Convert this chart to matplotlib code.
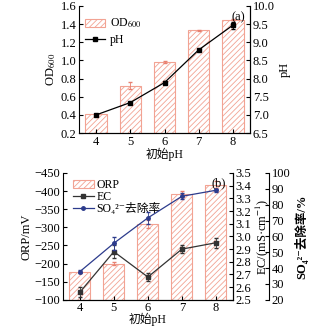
import numpy as np
import matplotlib
matplotlib.use('Agg')
import matplotlib.pyplot as plt

plt.rcParams['font.family'] = ['Liberation Serif', 'DejaVu Serif', 'Noto Sans CJK SC']
plt.rcParams['mathtext.fontset'] = 'stix'
plt.rcParams['font.size'] = 9
plt.rcParams['hatch.linewidth'] = 0.6

ph0 = [4, 5, 6, 7, 8]

# panel (a)
od600 = [0.41, 0.72, 0.98, 1.33, 1.45]
od600_err = [0.005, 0.04, 0.01, 0.01, 0.01]
ph_end = [7.0, 7.34, 7.89, 8.79, 9.47]
ph_end_err = [0.02, 0.02, 0.03, 0.03, 0.1]

# panel (b)
orp = [-177, -200, -309, -393, -418]
orp_err = [2, 5, 10, 8, 10]
ec = [2.56, 2.88, 2.68, 2.90, 2.95]
ec_err = [0.04, 0.05, 0.03, 0.03, 0.04]
so4 = [37.8, 55.7, 71.7, 85.3, 89.1]
so4_err = [1, 4, 4, 2, 1]

bar_edge = '#f2a393'
blue = '#2c3b8c'

fig = plt.figure(figsize=(3.29, 3.27), dpi=100)

# ---------- (a) ----------
ax1 = fig.add_axes([0.240, 0.593, 0.520, 0.389])
b1 = ax1.bar(ph0, od600, width=0.62, color='white', edgecolor=bar_edge,
             hatch='//////', linewidth=0.8, label='OD$_{600}$')
ax1.errorbar(ph0, od600, yerr=od600_err, fmt='none', ecolor='#e88070',
             elinewidth=0.6, capsize=1.5)
ax1.set_ylim(0.2, 1.6)
ax1.set_xlim(3.5, 8.5)
ax1.set_yticks(np.arange(0.2, 1.61, 0.2))
ax1.set_ylabel('OD$_{600}$', labelpad=2)
ax1.set_xlabel('初始pH', labelpad=0, fontsize=8.5)
ax1.set_xticks(ph0)

ax1b = ax1.twinx()
ax1b.errorbar(ph0, ph_end, yerr=ph_end_err, fmt='none', ecolor='black',
              elinewidth=0.6, capsize=1.5)
l1, = ax1b.plot(ph0, ph_end, color='black', marker='s', ms=3, lw=0.9, label='pH')
ax1b.set_ylim(6.5, 10.0)
ax1b.set_yticks(np.arange(6.5, 10.01, 0.5))
ax1b.set_ylabel('pH', labelpad=3)
ax1.text(0.97, 0.96, '(a)', transform=ax1.transAxes, ha='right', va='top')
ax1.legend(handles=[b1, l1], loc='upper left', frameon=False,
           bbox_to_anchor=(0.01, 0.95), handlelength=1.7, borderaxespad=0,
           labelspacing=0.3, handletextpad=0.35, fontsize=8.5)

# ---------- (b) ----------
ax2 = fig.add_axes([0.191, 0.083, 0.517, 0.388])
b2 = ax2.bar(ph0, orp, width=0.62, color='white', edgecolor=bar_edge,
             hatch='//////', linewidth=0.8, label='ORP')
ax2.errorbar(ph0, orp, yerr=orp_err, fmt='none', ecolor='#e88070',
             elinewidth=0.6, capsize=1.5)
ax2.set_ylim(-100, -450)
ax2.set_xlim(3.5, 8.5)
ax2.set_yticks(np.arange(-100, -451, -50))
ax2.set_yticklabels(['\u2212%d' % (-v) for v in np.arange(-100, -451, -50)])
ax2.set_ylabel('ORP/mV', labelpad=1)
ax2.set_xlabel('初始pH', labelpad=-1, fontsize=8.5)
ax2.set_xticks(ph0)

ax2b = ax2.twinx()
ax2b.errorbar(ph0, ec, yerr=ec_err, fmt='none', ecolor='#333333',
              elinewidth=0.6, capsize=1.5)
l2, = ax2b.plot(ph0, ec, color='#333333', marker='s', ms=3, lw=0.9, label='EC')
ax2b.set_ylim(2.5, 3.5)
ax2b.set_yticks(np.arange(2.5, 3.51, 0.1))
ax2b.set_ylabel('EC/(mS·cm$^{-1}$)', labelpad=1)

ax2c = ax2.twinx()
ax2c.spines['right'].set_position(('axes', 1.21))
ax2c.errorbar(ph0, so4, yerr=so4_err, fmt='none', ecolor=blue,
              elinewidth=0.6, capsize=1.5)
l3, = ax2c.plot(ph0, so4, color=blue, marker='o', ms=2.5, lw=0.9,
                label='SO\u2084\u00b2\u207b去除率')
ax2c.set_ylim(20, 100)
ax2c.set_yticks(np.arange(20, 101, 10))
ax2c.set_ylabel('SO\u2084\u00b2\u207b去除率/%', fontweight='bold', labelpad=3)
ax2.text(0.96, 0.97, '(b)', transform=ax2.transAxes, ha='right', va='top')
ax2.legend(handles=[b2, l2, l3], loc='upper left', frameon=False,
           bbox_to_anchor=(0.03, 0.99), handlelength=1.8, borderaxespad=0,
           labelspacing=0.0, handletextpad=0.2, fontsize=8.5)

for a in [ax1, ax1b, ax2, ax2b, ax2c]:
    a.spines['top'].set_visible(False)
    a.tick_params(direction='in', length=3, width=0.8, pad=2)
ax2.tick_params(axis='x', pad=1.5)
for a in [ax1b, ax2b, ax2c]:
    a.spines['left'].set_visible(False)
for a in [ax2c]:
    a.spines['bottom'].set_visible(False)

fig.savefig('out.png', dpi=100)
